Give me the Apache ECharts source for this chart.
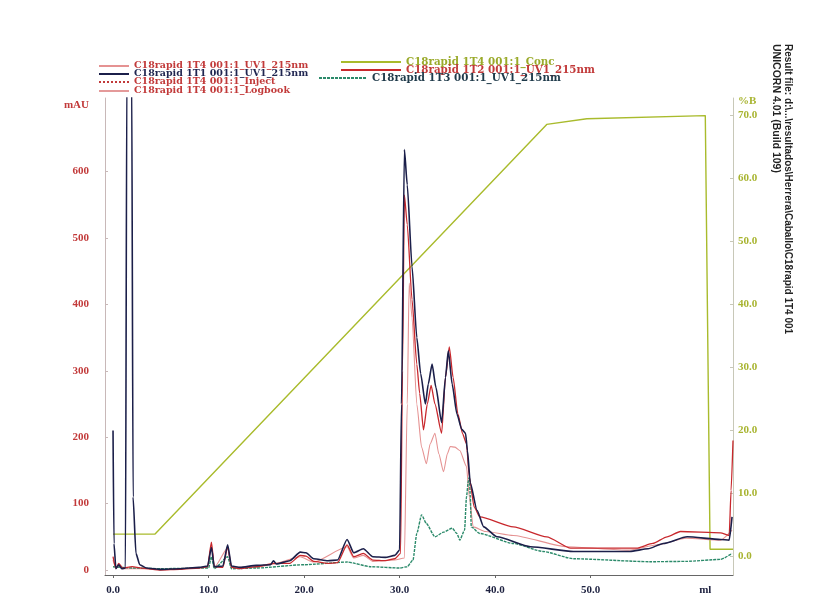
<!DOCTYPE html>
<html>
<head>
<meta charset="utf-8">
<script src="https://cdn.jsdelivr.net/npm/echarts@6/dist/echarts.min.js"></script>
<style>html,body{margin:0;padding:0;background:#fff;}#c{width:817px;height:608px;}</style>
</head>
<body>
<div id="c"></div>
<script>
// ---- tick labels ----
const xTicks = [0, 10, 20, 30, 40, 50];
const mauTicks = [0, 100, 200, 300, 400, 500, 600];
const pctTicks = [0, 10, 20, 30, 40, 50, 60, 70];

// ---- series names ----
const nameT4 = 'C18rapid 1T4 001:1_UV1_215nm';
const nameT1 = 'C18rapid 1T1 001:1_UV1_215nm';
const nameInject = 'C18rapid 1T4 001:1_Inject';
const nameLog = 'C18rapid 1T4 001:1_Logbook';
const nameConc = 'C18rapid 1T4 001:1_Conc';
const nameT2 = 'C18rapid 1T2 001:1_UV1_215nm';
const nameT3 = 'C18rapid 1T3 001:1_UV1_215nm';

// ---- data (ml, mAU) ----
const t1Ml  = [0.0,0.1,0.3,0.6,0.9,1.3,1.45,1.95,2.1,2.4,2.8,3.5,5,7,9,9.9,10.3,10.6,11.5,12.0,12.4,13.3,15,16.5,16.8,17.1,18.5,19.6,20.2,21,22.5,23.5,24.5,25.2,26.2,27.2,28.5,29.5,30.0,30.2,30.5,30.8,31.3,31.8,32.2,32.7,33.0,33.4,33.8,34.4,34.8,35.1,35.5,36.0,36.5,36.9,37.1,37.4,38.1,38.8,40.2,43.7,48.2,54.1,56,57.6,60.1,63.6,64.5,64.8];
const t1Mau = [210,40,2,8,2,3,760,760,110,25,8,3,1,2,4,6,34,5,6,38,6,4,7,8,14,9,14,27,26,17,14,15,46,26,32,20,19,22,30,250,633,580,457,350,296,250,280,310,275,222,290,330,280,235,212,206,180,131,90,65,50,35,28,28,32,40,50,46,45,80];

const t2Ml  = [0.0,0.3,0.6,1.0,2.0,3.0,5,7,9,9.9,10.3,10.6,11.5,12.0,12.4,13.3,15,16.8,18.5,19.6,20.2,21,22.5,23.5,24.5,25.2,26.2,27.2,28.5,29.5,30.1,30.3,30.5,30.8,31.3,31.8,32.1,32.5,32.9,33.3,33.7,34.4,34.8,35.2,35.6,36.1,36.6,37.0,37.3,37.8,38.4,41.9,45.4,47.9,54.8,56.5,58.0,59.4,63.6,64.5,64.7,64.9];
const t2Mau = [20,2,10,3,5,3,0,1,3,5,42,5,4,35,4,2,5,10,10,22,21,13,10,11,38,20,25,15,14,17,25,300,565,520,407,310,266,211,250,278,250,206,290,336,290,235,205,190,140,95,80,65,50,33,33,40,50,58,56,52,120,195];

const t4Ml  = [0.0,0.3,0.6,1.0,3,5,9.9,10.3,10.6,12.0,12.4,15,16.8,19.6,21,24.5,25.2,26.2,27.2,29.5,30.5,30.8,31.0,31.3,31.8,32.3,32.8,33.2,33.7,34.1,34.6,35.0,35.3,35.8,36.3,37.0,37.3,37.7,39,41.9,47.5,54,57,60,63.6,64.8];
const t4Mau = [15,3,6,2,2,1,4,38,4,33,4,4,9,20,12,35,18,22,13,15,18,250,432,380,250,185,160,190,206,175,148,175,186,185,180,156,110,65,58,52,35,30,38,48,45,60];

const t3Ml  = [0.0,2,5,10,10.3,10.6,12,12.4,15,20,24.5,27,30,30.8,31.4,31.8,32.3,32.8,33.7,34.6,35.5,36.0,36.3,36.8,37.0,37.2,37.3,37.4,37.5,38.4,41.9,45,48.2,56.2,60,63.6,64.8];
const t3Mau = [5,3,2,3,20,2,20,2,3,8,12,5,3,5,15,55,83,70,50,57,63,55,45,60,110,135,140,110,65,55,40,28,17,12.5,13,16,25];

// ---- data (ml, %B) ----
const concMl  = [0.0,4.4,45.4,49.6,62.0,62.5,64.9];
const concPct = [3.5,3.5,68.6,69.5,70.0,1.1,1.1];

function zip(a, b) { return a.map((v, i) => [v, b[i]]); }

const serif = '"Liberation Serif", "DejaVu Serif", serif';
const legFont = '"DejaVu Serif", "Liberation Serif", serif';
const chart = echarts.init(document.getElementById('c'));

function leg(name, left, top, color, w, fs) {
  return {
    left: left, top: top, padding: 0, itemWidth: w, itemHeight: 8, itemGap: 4,
    data: [{ name: name, textStyle: { color: color } }],
    itemStyle: { opacity: 0 },
    textStyle: { fontFamily: legFont, fontSize: fs, fontWeight: 'bold', padding: [0, 0, 0, 0] },
    selectedMode: false
  };
}

const option = {
  backgroundColor: '#ffffff',
  animation: false,
  grid: { left: 105, right: 84, top: 98, bottom: 33, containLabel: false },
  legend: [
    leg(nameT4, 98, 61, '#c23a3a', 30, 9.5),
    leg(nameT1, 98, 69, '#1f2550', 30, 9.5),
    leg(nameInject, 98, 77, '#c23a3a', 30, 9.5),
    leg(nameLog, 98, 86, '#c23a3a', 30, 9.5),
    leg(nameConc, 340, 57, '#9aaa2a', 60, 10.3),
    leg(nameT2, 340, 65, '#c23a3a', 60, 10.3),
    leg(nameT3, 318, 73, '#1f3a4a', 48, 10.3)
  ],
  xAxis: {
    type: 'value', min: -0.84, max: 64.9,
    axisLine: { show: true, onZero: false, lineStyle: { color: '#666', width: 1 } },
    axisTick: { show: true, customValues: xTicks, length: 3, lineStyle: { color: '#666' } },
    splitLine: { show: false },
    axisLabel: {
      customValues: xTicks.concat([62]),
      formatter: v => (v === 62 ? 'ml' : v.toFixed(1)),
      color: '#1e2240', fontFamily: serif, fontWeight: 'bold', fontSize: 11, margin: 10
    }
  },
  yAxis: [
    {
      type: 'value', position: 'left', min: -7.5, max: 710.8,
      axisLine: { show: true, onZero: false, lineStyle: { color: '#c8b8b8', width: 1 } },
      axisTick: { show: true, inside: true, customValues: mauTicks, length: 3, lineStyle: { color: '#c8b8b8' } },
      splitLine: { show: false },
      axisLabel: {
        customValues: mauTicks.concat([700]),
        formatter: v => (v === 700 ? 'mAU' : String(v)),
        color: '#c23a3a', fontFamily: serif, fontWeight: 'bold', fontSize: 11, margin: 16
      }
    },
    {
      type: 'value', position: 'right', min: -3.0, max: 72.8,
      axisLine: { show: true, onZero: false, lineStyle: { color: '#c8c8b8', width: 1 } },
      axisTick: { show: true, inside: true, customValues: pctTicks, length: 3, lineStyle: { color: '#c8c8b8' } },
      splitLine: { show: false },
      axisLabel: {
        customValues: pctTicks.concat([72.3]),
        formatter: v => (v > 71 ? '%B' : v.toFixed(1)),
        color: '#a8b430', fontFamily: serif, fontWeight: 'bold', fontSize: 11, margin: 5
      }
    }
  ],
  series: [
    { name: nameConc, type: 'line', yAxisIndex: 1, symbol: 'none', data: zip(concMl, concPct),
      lineStyle: { color: '#a9bb2c', width: 1.4 }, itemStyle: { color: '#a9bb2c' } },
    { name: nameInject, type: 'line', symbol: 'none', data: [],
      lineStyle: { color: '#c23a3a', width: 1, type: 'dotted' }, itemStyle: { color: '#c23a3a' } },
    { name: nameLog, type: 'line', symbol: 'none', data: [],
      lineStyle: { color: '#e49a9a', width: 1 }, itemStyle: { color: '#e49a9a' } },
    { name: nameT4, type: 'line', symbol: 'none', smooth: 0.2, smoothMonotone: 'x', data: zip(t4Ml, t4Mau),
      lineStyle: { color: '#e59292', width: 1.1 }, itemStyle: { color: '#e59292' } },
    { name: nameT3, type: 'line', symbol: 'none', smooth: 0.2, smoothMonotone: 'x', data: zip(t3Ml, t3Mau),
      lineStyle: { color: '#2b8a6a', width: 1.4, type: [3, 1] }, itemStyle: { color: '#2b8a6a' } },
    { name: nameT2, type: 'line', symbol: 'none', smooth: 0.2, smoothMonotone: 'x', data: zip(t2Ml, t2Mau),
      lineStyle: { color: '#c8282d', width: 1.3 }, itemStyle: { color: '#c8282d' } },
    { name: nameT1, type: 'line', symbol: 'none', smooth: 0.2, smoothMonotone: 'x', data: zip(t1Ml, t1Mau),
      lineStyle: { color: '#1b1f4a', width: 1.6 }, itemStyle: { color: '#1b1f4a' } }
  ],
  graphic: [
    { type: 'text', x: 776, y: 44, rotation: -Math.PI / 2,
      style: { text: 'UNICORN 4.01 (Build 109)', font: 'bold 10.5px "Liberation Sans", sans-serif', fill: '#222', align: 'left', verticalAlign: 'middle' } },
    { type: 'text', x: 788, y: 44, rotation: -Math.PI / 2,
      style: { text: 'Result file: d:\\...\\resultados\\Herrera\\Caballo\\C18rapid 1T4 001', font: 'bold 10px "Liberation Sans", sans-serif', fill: '#222', align: 'left', verticalAlign: 'middle' } }
  ]
};
chart.setOption(option);
</script>
</body>
</html>
